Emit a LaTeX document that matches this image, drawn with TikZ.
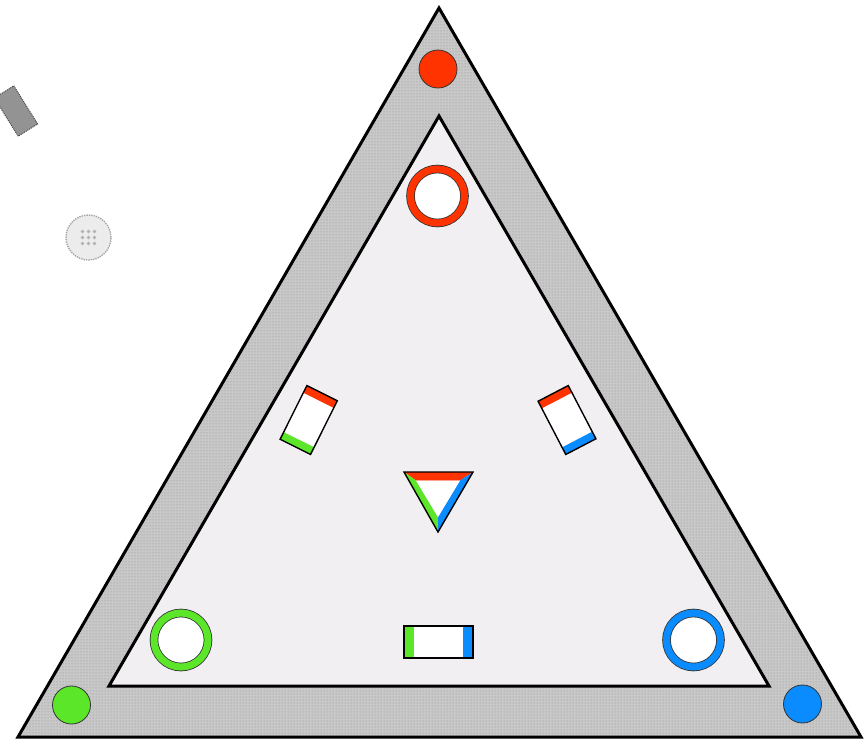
\documentclass[tikz,border=0pt]{standalone}
\usetikzlibrary{patterns,calc}
\definecolor{myred}{RGB}{255,51,0}
\definecolor{mygreen}{RGB}{92,230,42}
\definecolor{myblue}{RGB}{10,140,255}
\definecolor{bandgray}{RGB}{200,200,200}
\definecolor{innerfill}{RGB}{242,239,242}
\begin{document}
\begin{tikzpicture}[x=1pt,y=-1pt,
  edge/.style={draw=black,line width=3pt,line join=miter},
  dotnode/.style={circle,draw=black!80,line width=0.8pt,minimum size=38pt,inner sep=0pt},
  ringnode/.style={circle,draw=black!80,line width=0.8pt,double distance=7pt,fill=white,minimum size=54pt,inner sep=0pt},
  thin/.style={draw=black,line width=1.4pt}]
\useasboundingbox (0,0) rectangle (865,739);
% outer band
\coordinate (oA) at (439,8);
\coordinate (oB) at (18,737);
\coordinate (oC) at (861,737);
\coordinate (iA) at (439,116);
\coordinate (iB) at (109,686);
\coordinate (iC) at (769,686);
\fill[bandgray] (oA) -- (oB) -- (oC) -- cycle;
\fill[pattern=dots,pattern color=gray!90] (oA) -- (oB) -- (oC) -- cycle;
\draw[edge] (oA) -- (oB) -- (oC) -- cycle;
\draw[edge,fill=innerfill] (iA) -- (iB) -- (iC) -- cycle;
% corner dots
\node[dotnode,fill=myred] (dr) at (438,69) {};
\node[dotnode,fill=mygreen] (dg) at (71.5,705) {};
\node[dotnode,fill=myblue] (db) at (802.5,704) {};
% rings
\node[ringnode,double=myred] (rr) at (437.5,196) {};
\node[ringnode,double=mygreen] (rg) at (181,640) {};
\node[ringnode,double=myblue] (rb) at (693.5,640) {};
% left tilted rectangle
\begin{scope}[shift={(308.7,420)},rotate=-26.5]
  \fill[white] (-17,-30) rectangle (17,30);
  \fill[myred] (-17,-30) rectangle (17,-22);
  \fill[mygreen] (-17,30) rectangle (17,22);
  \draw[thin] (-17,-30) rectangle (17,30);
\end{scope}
% right tilted rectangle
\begin{scope}[shift={(567,420)},rotate=27.5]
  \fill[white] (-17,-30) rectangle (17,30);
  \fill[myred] (-17,-30) rectangle (17,-22);
  \fill[myblue] (-17,30) rectangle (17,22);
  \draw[thin] (-17,-30) rectangle (17,30);
\end{scope}
% bottom rectangle
\fill[white] (404,626) rectangle (473,658);
\fill[mygreen] (404,626) rectangle (414,658);
\fill[myblue] (463,626) rectangle (473,658);
\draw[thin] (404,626) rectangle (473,658);
% centre triangle
\coordinate (tA) at (404,472);
\coordinate (tB) at (473,472);
\coordinate (tC) at (438,532);
\coordinate (uA) at (416,480.5);
\coordinate (uB) at (460,480.5);
\coordinate (uC) at (438,517);
\fill[myred] (tA) -- (tB) -- (uB) -- (uA) -- cycle;
\fill[mygreen] (tA) -- (uA) -- (uC) -- (tC) -- cycle;
\fill[myblue] (tB) -- (tC) -- (uC) -- (uB) -- cycle;
\fill[white] (uA) -- (uB) -- (uC) -- cycle;
\draw[thin,line join=miter] (tA) -- (tB) -- (tC) -- cycle;
% stray gray rectangle
\begin{scope}[shift={(16,111)},rotate=32]
  \draw[fill=gray!85,draw=gray!55!black,line width=1pt,densely dotted] (-11.5,-22.5) rectangle (11.5,22.5);
\end{scope}
% stray dotted disc
\node[circle,draw=gray!70,line width=1.4pt,densely dotted,fill=gray!15,minimum size=45pt,inner sep=0pt] (disc) at (88.5,237.5) {};
\foreach \dx in {-6,0,6}{\foreach \dy in {-6,0,6}{
  \fill[gray!60] ($(disc.center)+(\dx,\dy)$) circle (1.8);}}
\end{tikzpicture}
\end{document}
